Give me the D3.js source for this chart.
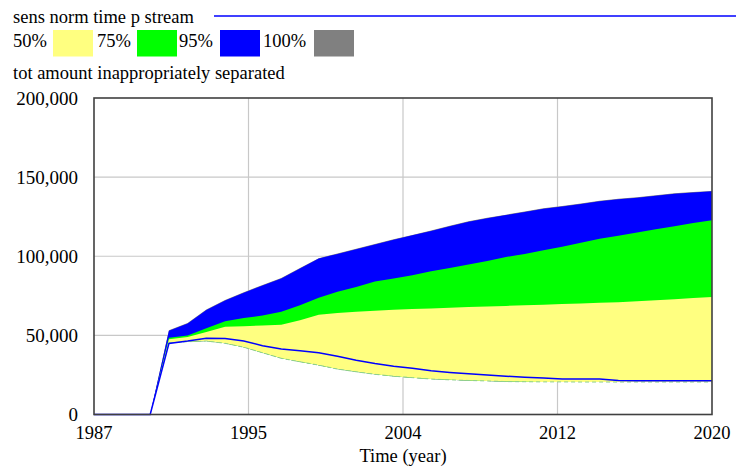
<!DOCTYPE html>
<html><head><meta charset="utf-8">
<script src="https://cdn.jsdelivr.net/npm/d3@7"></script>
<style>
html,body{margin:0;padding:0;background:#fff;}
svg text{font-family:"Liberation Serif",serif;fill:#000;}
</style></head>
<body>
<svg id="c" width="736" height="471" font-family="Liberation Serif, serif"></svg>
<script>
const years = [1987,1988,1989,1990,1991,1992,1993,1994,1995,1996,1997,1998,1999,2000,2001,2002,2003,2004,2005,2006,2007,2008,2009,2010,2011,2012,2013,2014,2015,2016,2017,2018,2019,2020];
const maxBound = [0,0,0,0,53300,57800,66300,72300,77300,81800,86300,92600,98800,101800,104800,107800,110800,113500,116300,119300,122100,124300,126300,128300,130300,131800,133300,135100,136300,137300,138500,139800,140600,141300];
const upper95 = [0,0,0,0,53000,57500,66000,72000,77000,81500,86000,92300,98500,101500,104500,107500,110500,113200,116000,119000,121800,124000,126000,128000,130000,131500,133000,134800,136000,137000,138200,139500,140300,141000];
const upper75 = [0,0,0,0,48500,50000,54500,59000,61000,62500,65000,69000,73700,77500,80500,84000,86000,88000,90500,92500,94800,97000,99500,101500,103800,106000,108500,111000,113000,115000,117000,119000,121000,122800];
const upper50 = [0,0,0,0,47500,49000,52200,55400,55800,56200,56700,59600,63000,64200,65000,65600,66200,66600,67000,67400,67900,68300,68600,69000,69400,69800,70200,70600,71000,71600,72200,72900,73600,74300];
const lowerBound = [0,0,0,0,45300,46000,46400,45000,42500,39000,35500,33300,31200,28700,27000,25400,24200,23300,22400,21900,21500,21200,20800,20700,20600,20600,20500,20500,20500,20500,20500,20500,20500,20500];
const baseRun = [0,0,0,0,44900,46400,48200,48100,46500,43500,41400,40300,39000,36800,34300,32200,30500,29300,27600,26600,25700,25000,24200,23600,23000,22500,22500,22400,21500,21400,21400,21400,21400,21400];
const yTicks = [0,50000,100000,150000,200000];
const xTicks = [1987,1995.25,2003.5,2011.75,2020];
const xTickLabels = ["1987","1995","2004","2012","2020"];
const legendLabels = ["50%","75%","95%","100%"];
const legendColors = ["#ffff80","#00ff00","#0000ff","#808080"];
const runTitle = "sens norm time p stream";
const varTitle = "tot amount inappropriately separated";
const xTitle = "Time (year)";

const FONT = "Liberation Serif, serif";
const svg = d3.select("#c");
const L=94,R=712,T=98,B=414.5;
const x = d3.scaleLinear().domain([1987,2020]).range([L,R]);
const y = d3.scaleLinear().domain([0,200000]).range([B,T]);

// gridlines
svg.append("g").selectAll("line").data(yTicks.slice(1,-1)).join("line")
  .attr("x1",L).attr("x2",R).attr("y1",d=>y(d)).attr("y2",d=>y(d))
  .attr("stroke","#c8c8c8").attr("stroke-width",1.2);
svg.append("g").selectAll("line").data(xTicks.slice(1,-1)).join("line")
  .attr("y1",T).attr("y2",B).attr("x1",d=>x(d)).attr("x2",d=>x(d))
  .attr("stroke","#c8c8c8").attr("stroke-width",1.2);

const idx = d3.range(years.length);
function band(lo,hi,color){
  const a = d3.area().x(i=>x(years[i])).y0(i=>y(lo[i])).y1(i=>y(hi[i]));
  svg.append("path").attr("d",a(idx)).attr("fill",color);
}
band(lowerBound,maxBound,legendColors[3]);
band(lowerBound,upper95,legendColors[2]);
band(lowerBound,upper75,legendColors[1]);
band(lowerBound,upper50,legendColors[0]);

// lower edge
const ln = d3.line().x(i=>x(years[i])).y(i=>y(lowerBound[i]));
svg.append("path").attr("d",ln(idx.filter(i=>years[i]>=1991))).attr("fill","none")
  .attr("stroke","#8fd08f").attr("stroke-width",1).attr("stroke-dasharray","4,3");

// base run line
const bl = d3.line().x(i=>x(years[i])).y(i=>y(baseRun[i]));
svg.append("path").attr("d",bl(idx)).attr("fill","none")
  .attr("stroke","#0000ff").attr("stroke-width",1.5);

// frame
svg.append("rect").attr("x",L).attr("y",T).attr("width",R-L).attr("height",B-T)
  .attr("fill","none").attr("stroke","#404040").attr("stroke-width",1.6);

function txt(xp,yp,s,size,anchor){
  return svg.append("text").attr("x",xp).attr("y",yp).attr("font-family",FONT)
    .attr("font-size",size).attr("text-anchor",anchor||"start").text(s);
}
// y axis labels
yTicks.forEach(d=>txt(78,y(d)+6.5,d3.format(",")(d),19,"end"));
// x axis labels
xTicks.forEach((d,i)=>txt(x(d),439,xTickLabels[i],18.5,"middle"));
txt(403,461.5,xTitle,18.5,"middle");

// legend
txt(13,23.3,runTitle,18.5);
svg.append("line").attr("x1",214).attr("x2",736).attr("y1",16).attr("y2",16)
  .attr("stroke","#0000ff").attr("stroke-width",1.5);
const lx = [13,97,179,263];
const bx = [53,137,220,314];
legendLabels.forEach((t,i)=>{
  txt(lx[i],47,t,18.5);
  svg.append("rect").attr("x",bx[i]).attr("y",30).attr("width",40).attr("height",26.5)
    .attr("fill",legendColors[i]);
});
txt(13,79,varTitle,18.5);
</script>
</body></html>
